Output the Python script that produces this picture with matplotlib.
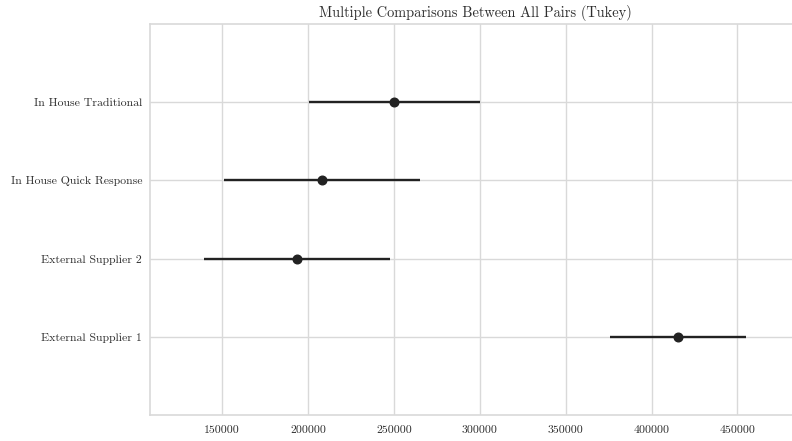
import numpy as np
import matplotlib
matplotlib.use("Agg")
import matplotlib.pyplot as plt

# group names, bottom to top
groups = ["External Supplier 1", "External Supplier 2",
          "In House Quick Response", "In House Traditional"]
means = [415400, 193700, 208150, 250200]
half_width = [39800, 54200, 57100, 49700]   # tukey simultaneous intervals
x_ticks = [150000, 200000, 250000, 300000, 350000, 400000, 450000]

plt.rcParams["font.family"] = ["cmr10", "DejaVu Serif"]
plt.rcParams["axes.formatter.use_mathtext"] = True

fig = plt.figure(figsize=(7.92, 4.41), dpi=100)
ax = fig.add_axes([149.8 / 792, 1 - 415.3 / 441, (800.6 - 149.8) / 792, (415.3 - 23.7) / 441])

ax.errorbar(means, np.arange(len(groups)), xerr=half_width, fmt="o",
            color="#222222", ecolor="#222222", lw=1.7, ms=6.2, capsize=0)

lo = min(m - h for m, h in zip(means, half_width))
hi = max(m + h for m, h in zip(means, half_width))
rng = hi - lo
ax.set_xlim(lo - 0.1 * rng, hi + 0.1 * rng)
ax.set_ylim(-1, len(groups))
ax.set_xticks(x_ticks)
ax.set_xticklabels([str(t) for t in x_ticks])
ax.set_yticks(range(len(groups)))
ax.set_yticklabels(groups)

ax.grid(True, color="#d9d9d9", lw=1)
ax.set_axisbelow(True)
for s in ax.spines.values():
    s.set_color("#d9d9d9")
    s.set_linewidth(1.2)
ax.tick_params(length=0, labelsize=8.5, colors="#2e2e2e")
ax.tick_params(axis="y", pad=5.5)
ax.tick_params(axis="x", pad=7)
ax.set_title("Multiple Comparisons Between All Pairs (Tukey)", fontsize=10.4, color="#2e2e2e", pad=5)

fig.savefig("out.png", dpi=100)
